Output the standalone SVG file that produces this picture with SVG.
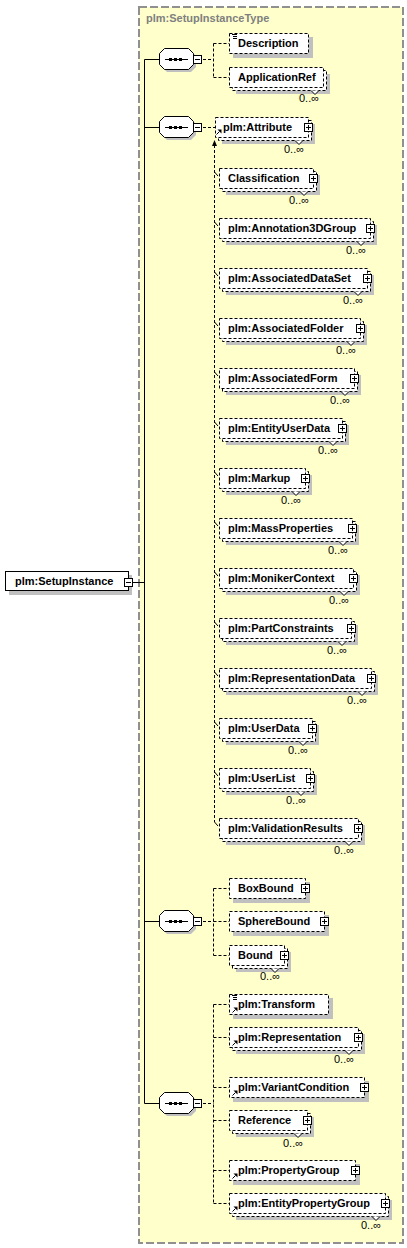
<svg xmlns="http://www.w3.org/2000/svg" xmlns:xlink="http://www.w3.org/1999/xlink" width="407" height="1248" viewBox="0 0 407 1248">
<style>
text{font-family:"Liberation Sans",Arial,sans-serif;font-size:11px;fill:#000}
.nm{font-weight:bold}
.ttl{font-weight:bold;fill:#808080}
.occ{font-size:11px;text-anchor:middle}
.sh{fill:#c0c0c0;stroke:none}
.bx{fill:#fff;stroke:#000;stroke-width:1;stroke-dasharray:3 2}
.sb{fill:#fff;stroke:#000;stroke-width:1}
.nt{fill:#fff;stroke:#000;stroke-width:1}
.cn{fill:none;stroke:#000;stroke-width:1;stroke-dasharray:3 2}
.sl{fill:none;stroke:#000;stroke-width:1}
</style>
<defs>
<g id="plus"><rect x="0.5" y="0.5" width="8" height="8" fill="#fff" stroke="#000"/><path d="M2 4.5H7M4.5 2V7" stroke="#000"/></g>
<g id="minus"><rect x="0.5" y="0.5" width="8" height="8" fill="#fff" stroke="#000"/><path d="M2 4.5H7" stroke="#000"/></g>
<g id="ref"><path d="M0.5 5.5L3.5 2.5" stroke="#000"/><path d="M1.5 0.5H5.5V4.5Z" fill="#000"/></g>
<g id="txt"><path d="M0 0.5H5M1 2.5H5M1 4.5H5" stroke="#000"/></g>
<g id="seq">
<polygon points="8,3 32,3 37,8 37,19 32,24 8,24 3,19 3,8" fill="#c0c0c0"/>
<polygon points="5.5,0.5 29.5,0.5 34.5,5.5 34.5,16.5 29.5,21.5 5.5,21.5 0.5,16.5 0.5,5.5" fill="#fff" stroke="#000"/>
<path d="M6 11.5H29" stroke="#000"/>
<rect x="10" y="10" width="3" height="3" fill="#000"/><rect x="15" y="10" width="3" height="3" fill="#000"/><rect x="20" y="10" width="3" height="3" fill="#000"/>
<use xlink:href="#minus" x="34" y="7"/>
</g>
</defs>

<rect id="type" x="139" y="7" width="264" height="1236" fill="#ffffcc" stroke="#909090" stroke-width="2" stroke-dasharray="8 3"/>
<text class="ttl" x="146" y="22">plm:SetupInstanceType</text>

<g id="connectors">
<path class="sl" d="M132 582.5H144.5M144.5 59.5V1103.5M144.5 59.5H159M144.5 127.5H159M144.5 921.5H159M144.5 1103.5H159"/>
<path class="cn" d="M203 59.5H213.5M213.5 43.5V77.5M213.5 43.5H229M213.5 77.5H229"/>
<path class="cn" d="M203 127.5H215"/>
<path class="cn" d="M214.5 145V822"/>
<polygon points="212,146 217,146 214.5,140" fill="#000"/>
<path class="sl" d="M214.5 172L218 176M214.5 222L218 226M214.5 272L218 276M214.5 322L218 326M214.5 372L218 376M214.5 422L218 426M214.5 472L218 476M214.5 522L218 526M214.5 572L218 576M214.5 622L218 626M214.5 672L218 676M214.5 722L218 726M214.5 772L218 776M214.5 822L218 826"/>
<path class="cn" d="M203 921.5H213.5M213.5 888.5V955.5M213.5 888.5H229M213.5 921.5H229M213.5 955.5H229"/>
<path class="cn" d="M203 1103.5H213.5M213.5 1004.5V1203.5M213.5 1004.5H229M213.5 1037.5H229M213.5 1087.5H229M213.5 1120.5H229M213.5 1170.5H229M213.5 1203.5H229"/>
</g>

<g id="n-root">
<rect class="sh" x="9" y="575" width="123" height="20"/>
<rect class="sb" x="5.5" y="571.5" width="123" height="19"/>
<text class="nm" x="15" y="585">plm:SetupInstance</text>
<use xlink:href="#minus" x="124" y="578"/>
</g>

<g id="c-seq1"><use xlink:href="#seq" x="159" y="48"/></g>
<g id="c-seq2"><use xlink:href="#seq" x="159" y="116"/></g>
<g id="c-seq3"><use xlink:href="#seq" x="159" y="910"/></g>
<g id="c-seq4"><use xlink:href="#seq" x="159" y="1092"/></g>

<!-- group 1 -->
<g id="n-Description">
<rect class="sh" x="233" y="37" width="80" height="21"/>
<rect class="bx" x="229.5" y="33.5" width="79" height="20"/>
<use xlink:href="#txt" x="232" y="34"/>
<text class="nm" x="238" y="47">Description</text>
</g>
<g id="n-ApplicationRef">
<rect class="sh" x="236" y="74" width="94" height="20"/>
<rect class="bx" x="232.5" y="70.5" width="94" height="20"/>
<rect class="bx" x="229.5" y="67.5" width="94" height="20"/>
<path class="nt" d="M311 90.5L315 94.5L319 90.5"/>
<text class="nm" x="238" y="81">ApplicationRef</text>
<text class="occ" x="309" y="102">0..∞</text>
</g>

<!-- group 2 -->
<g id="n-Attribute">
<rect class="sh" x="222" y="124" width="93" height="20"/>
<rect class="bx" x="218.5" y="120.5" width="93" height="20"/>
<rect class="bx" x="215.5" y="117.5" width="93" height="20"/>
<path class="nt" d="M295 140.5L299 144.5L303 140.5"/>
<use xlink:href="#ref" x="216" y="129"/>
<text class="nm" x="223" y="131">plm:Attribute</text>
<use xlink:href="#plus" x="304" y="123"/>
<text class="occ" x="294" y="153">0..∞</text>
</g>
<g id="n-Classification">
<rect class="sh" x="226" y="175" width="94" height="20"/>
<rect class="bx" x="222.5" y="171.5" width="94" height="20"/>
<rect class="bx" x="219.5" y="168.5" width="94" height="20"/>
<path class="nt" d="M300 191.5L304 195.5L308 191.5"/>
<text class="nm" x="228" y="182">Classification</text>
<use xlink:href="#plus" x="309" y="174"/>
<text class="occ" x="299" y="204">0..∞</text>
</g>
<g id="n-Annotation3DGroup">
<rect class="sh" x="226" y="225" width="151" height="20"/>
<rect class="bx" x="222.5" y="221.5" width="151" height="20"/>
<rect class="bx" x="219.5" y="218.5" width="151" height="20"/>
<path class="nt" d="M357 241.5L361 245.5L365 241.5"/>
<text class="nm" x="228" y="232">plm:Annotation3DGroup</text>
<use xlink:href="#plus" x="366" y="224"/>
<text class="occ" x="356" y="254">0..∞</text>
</g>
<g id="n-AssociatedDataSet">
<rect class="sh" x="226" y="275" width="148" height="20"/>
<rect class="bx" x="222.5" y="271.5" width="148" height="20"/>
<rect class="bx" x="219.5" y="268.5" width="148" height="20"/>
<path class="nt" d="M354 291.5L358 295.5L362 291.5"/>
<text class="nm" x="228" y="282">plm:AssociatedDataSet</text>
<use xlink:href="#plus" x="363" y="274"/>
<text class="occ" x="353" y="304">0..∞</text>
</g>
<g id="n-AssociatedFolder">
<rect class="sh" x="226" y="325" width="141" height="20"/>
<rect class="bx" x="222.5" y="321.5" width="141" height="20"/>
<rect class="bx" x="219.5" y="318.5" width="141" height="20"/>
<path class="nt" d="M347 341.5L351 345.5L355 341.5"/>
<text class="nm" x="228" y="332">plm:AssociatedFolder</text>
<use xlink:href="#plus" x="356" y="324"/>
<text class="occ" x="346" y="354">0..∞</text>
</g>
<g id="n-AssociatedForm">
<rect class="sh" x="226" y="375" width="135" height="20"/>
<rect class="bx" x="222.5" y="371.5" width="135" height="20"/>
<rect class="bx" x="219.5" y="368.5" width="135" height="20"/>
<path class="nt" d="M341 391.5L345 395.5L349 391.5"/>
<text class="nm" x="228" y="382">plm:AssociatedForm</text>
<use xlink:href="#plus" x="350" y="374"/>
<text class="occ" x="340" y="404">0..∞</text>
</g>
<g id="n-EntityUserData">
<rect class="sh" x="226" y="425" width="123" height="20"/>
<rect class="bx" x="222.5" y="421.5" width="123" height="20"/>
<rect class="bx" x="219.5" y="418.5" width="123" height="20"/>
<path class="nt" d="M329 441.5L333 445.5L337 441.5"/>
<text class="nm" x="228" y="432">plm:EntityUserData</text>
<use xlink:href="#plus" x="338" y="424"/>
<text class="occ" x="328" y="454">0..∞</text>
</g>
<g id="n-Markup">
<rect class="sh" x="226" y="475" width="86" height="20"/>
<rect class="bx" x="222.5" y="471.5" width="86" height="20"/>
<rect class="bx" x="219.5" y="468.5" width="86" height="20"/>
<path class="nt" d="M292 491.5L296 495.5L300 491.5"/>
<text class="nm" x="228" y="482">plm:Markup</text>
<use xlink:href="#plus" x="301" y="474"/>
<text class="occ" x="291" y="504">0..∞</text>
</g>
<g id="n-MassProperties">
<rect class="sh" x="226" y="525" width="133" height="20"/>
<rect class="bx" x="222.5" y="521.5" width="133" height="20"/>
<rect class="bx" x="219.5" y="518.5" width="133" height="20"/>
<path class="nt" d="M339 541.5L343 545.5L347 541.5"/>
<text class="nm" x="228" y="532">plm:MassProperties</text>
<use xlink:href="#plus" x="348" y="524"/>
<text class="occ" x="338" y="554">0..∞</text>
</g>
<g id="n-MonikerContext">
<rect class="sh" x="226" y="575" width="134" height="20"/>
<rect class="bx" x="222.5" y="571.5" width="134" height="20"/>
<rect class="bx" x="219.5" y="568.5" width="134" height="20"/>
<path class="nt" d="M340 591.5L344 595.5L348 591.5"/>
<text class="nm" x="228" y="582">plm:MonikerContext</text>
<use xlink:href="#plus" x="349" y="574"/>
<text class="occ" x="339" y="604">0..∞</text>
</g>
<g id="n-PartConstraints">
<rect class="sh" x="226" y="625" width="132" height="20"/>
<rect class="bx" x="222.5" y="621.5" width="132" height="20"/>
<rect class="bx" x="219.5" y="618.5" width="132" height="20"/>
<path class="nt" d="M338 641.5L342 645.5L346 641.5"/>
<text class="nm" x="228" y="632">plm:PartConstraints</text>
<use xlink:href="#plus" x="347" y="624"/>
<text class="occ" x="337" y="654">0..∞</text>
</g>
<g id="n-RepresentationData">
<rect class="sh" x="226" y="675" width="152" height="20"/>
<rect class="bx" x="222.5" y="671.5" width="152" height="20"/>
<rect class="bx" x="219.5" y="668.5" width="152" height="20"/>
<path class="nt" d="M358 691.5L362 695.5L366 691.5"/>
<text class="nm" x="228" y="682">plm:RepresentationData</text>
<use xlink:href="#plus" x="367" y="674"/>
<text class="occ" x="357" y="704">0..∞</text>
</g>
<g id="n-UserData">
<rect class="sh" x="226" y="725" width="93" height="20"/>
<rect class="bx" x="222.5" y="721.5" width="93" height="20"/>
<rect class="bx" x="219.5" y="718.5" width="93" height="20"/>
<path class="nt" d="M299 741.5L303 745.5L307 741.5"/>
<text class="nm" x="228" y="732">plm:UserData</text>
<use xlink:href="#plus" x="308" y="724"/>
<text class="occ" x="298" y="754">0..∞</text>
</g>
<g id="n-UserList">
<rect class="sh" x="226" y="775" width="91" height="20"/>
<rect class="bx" x="222.5" y="771.5" width="91" height="20"/>
<rect class="bx" x="219.5" y="768.5" width="91" height="20"/>
<path class="nt" d="M297 791.5L301 795.5L305 791.5"/>
<text class="nm" x="228" y="782">plm:UserList</text>
<use xlink:href="#plus" x="306" y="774"/>
<text class="occ" x="296" y="804">0..∞</text>
</g>
<g id="n-ValidationResults">
<rect class="sh" x="226" y="825" width="139" height="20"/>
<rect class="bx" x="222.5" y="821.5" width="139" height="20"/>
<rect class="bx" x="219.5" y="818.5" width="139" height="20"/>
<path class="nt" d="M345 841.5L349 845.5L353 841.5"/>
<text class="nm" x="228" y="832">plm:ValidationResults</text>
<use xlink:href="#plus" x="354" y="824"/>
<text class="occ" x="344" y="854">0..∞</text>
</g>

<!-- group 3 -->
<g id="n-BoxBound">
<rect class="sh" x="233" y="882" width="77" height="21"/>
<rect class="bx" x="229.5" y="878.5" width="76" height="20"/>
<text class="nm" x="238" y="892">BoxBound</text>
<use xlink:href="#plus" x="301" y="884"/>
</g>
<g id="n-SphereBound">
<rect class="sh" x="233" y="915" width="96" height="21"/>
<rect class="bx" x="229.5" y="911.5" width="95" height="20"/>
<text class="nm" x="238" y="925">SphereBound</text>
<use xlink:href="#plus" x="320" y="917"/>
</g>
<g id="n-Bound">
<rect class="sh" x="236" y="952" width="55" height="20"/>
<rect class="bx" x="232.5" y="948.5" width="55" height="20"/>
<rect class="bx" x="229.5" y="945.5" width="55" height="20"/>
<path class="nt" d="M271 968.5L275 972.5L279 968.5"/>
<text class="nm" x="238" y="959">Bound</text>
<use xlink:href="#plus" x="280" y="951"/>
<text class="occ" x="270" y="980">0..∞</text>
</g>

<!-- group 4 -->
<g id="n-Transform">
<rect class="sh" x="233" y="998" width="100" height="21"/>
<rect class="bx" x="229.5" y="994.5" width="99" height="20"/>
<use xlink:href="#txt" x="232" y="995"/>
<use xlink:href="#ref" x="232" y="1007"/>
<text class="nm" x="238" y="1008">plm:Transform</text>
</g>
<g id="n-Representation">
<rect class="sh" x="236" y="1034" width="129" height="20"/>
<rect class="bx" x="232.5" y="1030.5" width="129" height="20"/>
<rect class="bx" x="229.5" y="1027.5" width="129" height="20"/>
<path class="nt" d="M345 1050.5L349 1054.5L353 1050.5"/>
<use xlink:href="#ref" x="232" y="1040"/>
<text class="nm" x="238" y="1041">plm:Representation</text>
<use xlink:href="#plus" x="354" y="1033"/>
<text class="occ" x="344" y="1063">0..∞</text>
</g>
<g id="n-VariantCondition">
<rect class="sh" x="233" y="1081" width="136" height="21"/>
<rect class="bx" x="229.5" y="1077.5" width="135" height="20"/>
<use xlink:href="#ref" x="232" y="1090"/>
<text class="nm" x="238" y="1091">plm:VariantCondition</text>
<use xlink:href="#plus" x="360" y="1083"/>
</g>
<g id="n-Reference">
<rect class="sh" x="236" y="1117" width="78" height="20"/>
<rect class="bx" x="232.5" y="1113.5" width="78" height="20"/>
<rect class="bx" x="229.5" y="1110.5" width="78" height="20"/>
<path class="nt" d="M294 1133.5L298 1137.5L302 1133.5"/>
<text class="nm" x="238" y="1124">Reference</text>
<use xlink:href="#plus" x="303" y="1116"/>
<text class="occ" x="293" y="1147">0..∞</text>
</g>
<g id="n-PropertyGroup">
<rect class="sh" x="233" y="1164" width="127" height="21"/>
<rect class="bx" x="229.5" y="1160.5" width="126" height="20"/>
<use xlink:href="#ref" x="232" y="1173"/>
<text class="nm" x="238" y="1174">plm:PropertyGroup</text>
<use xlink:href="#plus" x="351" y="1166"/>
</g>
<g id="n-EntityPropertyGroup">
<rect class="sh" x="236" y="1200" width="156" height="20"/>
<rect class="bx" x="232.5" y="1196.5" width="156" height="20"/>
<rect class="bx" x="229.5" y="1193.5" width="156" height="20"/>
<path class="nt" d="M372 1216.5L376 1220.5L380 1216.5"/>
<use xlink:href="#ref" x="232" y="1206"/>
<text class="nm" x="238" y="1207">plm:EntityPropertyGroup</text>
<use xlink:href="#plus" x="381" y="1199"/>
<text class="occ" x="371" y="1229">0..∞</text>
</g>
</svg>
